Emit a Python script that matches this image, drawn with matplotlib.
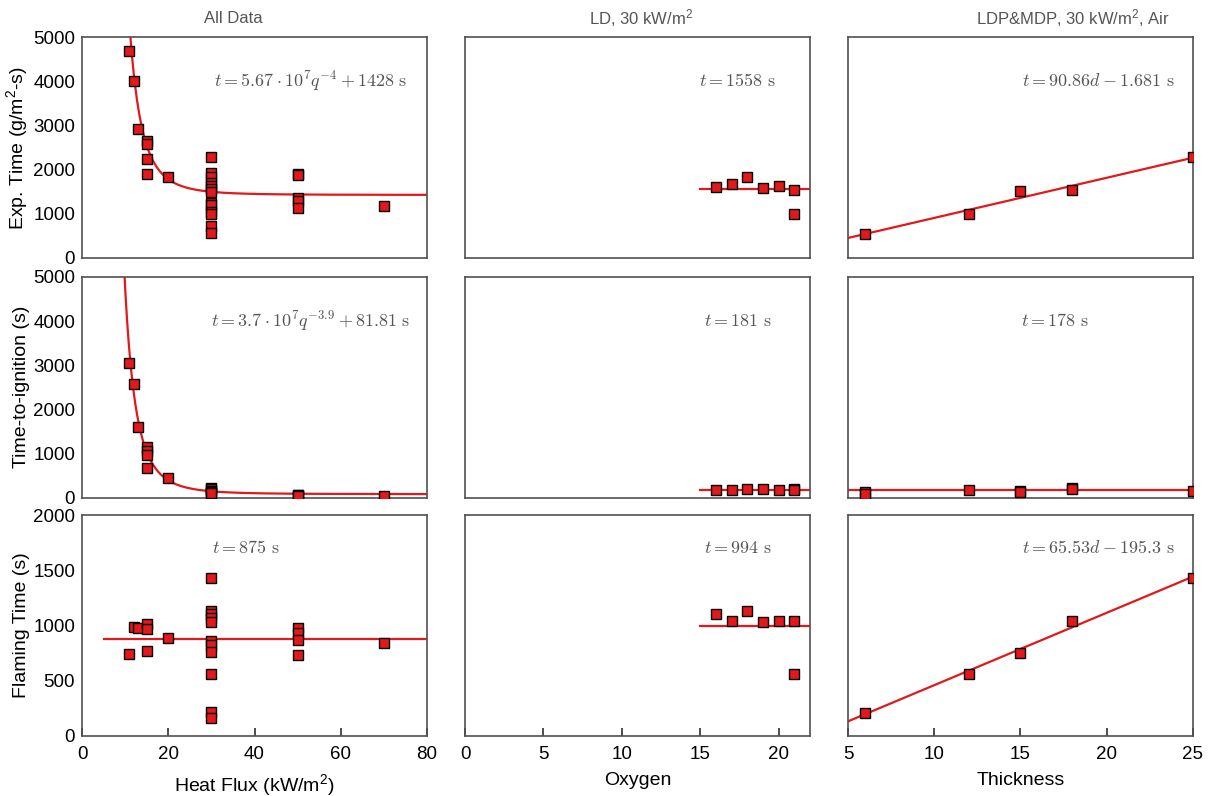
import numpy as np
import matplotlib
matplotlib.use('Agg')
import matplotlib.pyplot as plt

plt.rcParams['font.family'] = ['Liberation Sans', 'DejaVu Sans']
plt.rcParams['mathtext.fontset'] = 'cm'

# ---- data ----
# left column: heat flux (kW/m2)
hf_exp = [11, 12, 13, 15, 15, 15, 15, 20,
          30, 30, 30, 30, 30, 30, 30, 30, 30, 30, 30, 30, 30,
          50, 50, 50, 50, 50, 70]
exp_all = [4680, 4000, 2910, 2650, 2580, 2250, 1900, 1830,
           2280, 1920, 1830, 1700, 1620, 1560, 1500, 1250, 1200, 1030, 990, 720, 560,
           1890, 1870, 1350, 1290, 1140, 1180]

hf_tig = [11, 12, 13, 15, 15, 15, 15, 20, 30, 30, 30, 30, 30, 50, 50, 50, 70]
tig_all = [3050, 2570, 1600, 1150, 1050, 960, 670, 450, 220, 190, 160, 130, 100, 70, 55, 40, 30]

hf_flm = [11, 12, 13, 15, 15, 15, 20,
          30, 30, 30, 30, 30, 30, 30, 30, 30, 30, 30,
          50, 50, 50, 50, 70]
flm_all = [740, 990, 975, 1015, 965, 765, 885,
           1430, 1130, 1100, 1065, 1030, 860, 820, 760, 565, 215, 160,
           975, 930, 870, 730, 845]

# middle column: oxygen
o2 = [16, 17, 18, 19, 20, 21, 21]
exp_o2 = [1600, 1665, 1835, 1590, 1630, 1530, 990]
tig_o2 = [185, 185, 190, 190, 175, 200, 165]
flm_o2 = [1100, 1045, 1135, 1035, 1045, 1045, 565]

# right column: thickness
thk = [6, 12, 15, 18, 25]
exp_thk = [540, 1000, 1510, 1550, 2280]
thk_tig = [6, 6, 12, 15, 15, 18, 18, 25]
tig_thk = [140, 90, 170, 150, 120, 215, 190, 150]
flm_thk = [210, 565, 755, 1045, 1430]

# fitted models shown on the chart
fit_exp = (5.67e7, -4.0, 1428)
fit_tig = (3.7e7, -3.9, 81.81)
fit_flm = 875
fit_o2 = [1558, 181, 994]
fit_thk_exp = (90.86, -1.681)
fit_thk_tig = 178
fit_thk_flm = (65.53, -195.3)

RED = '#e3181b'
GRAY = '#555555'

fig = plt.figure(figsize=(12.1, 7.96), dpi=100)

lefts = [0.0678, 0.3843, 0.7008]
bottoms = [0.6759, 0.3747, 0.0754]
W, H = 0.2851, 0.2775


def make_ax(row, col, xlim, ylim):
    ax = fig.add_axes([lefts[col], bottoms[row], W, H])
    ax.set_xlim(xlim)
    ax.set_ylim(ylim)
    for s in ax.spines.values():
        s.set_color('#505050')
        s.set_linewidth(1.2)
    ax.tick_params(direction='in', length=6, width=1.2, color='#303030',
                   labelsize=13.5, pad=7)
    ax.tick_params(axis='y', length=0, pad=5)
    if row < 2:
        ax.set_xticks([])
    if col > 0:
        ax.set_yticks([])
    return ax


def points(ax, x, y):
    ax.plot(x, y, 's', ms=7.8, mfc=RED, mec='black', mew=1.0, zorder=3, ls='none')


def fitline(ax, x, y):
    ax.plot(x, y, '-', color=RED, lw=1.6, zorder=2)


def note(ax, x, y, s):
    ax.text(x, y, s, ha='center', va='center', fontsize=13, color=GRAY)


def ylab(ax, s):
    ax.set_ylabel(s, fontsize=14)
    ax.yaxis.set_label_coords(-0.15, 0.5)


def xlab(ax, s):
    ax.set_xlabel(s, fontsize=14)
    ax.xaxis.set_label_coords(0.5, -0.165)


# ---- left column ----
q = np.linspace(5, 80, 400)

ax = make_ax(0, 0, (0, 80), (0, 5000))
fitline(ax, q, fit_exp[0] * q ** fit_exp[1] + fit_exp[2])
points(ax, hf_exp, exp_all)
ax.set_yticks([0, 1000, 2000, 3000, 4000, 5000])
note(ax, 53, 4000, r'$t = 5.67\cdot10^{7}q^{-4} + 1428\ \mathrm{s}$')
ylab(ax, 'Exp. Time (g/m$\\mathregular{^2}$-s)')
fig.text(0.193, 0.977, 'All Data', ha='center', va='center', fontsize=12, color=GRAY)

ax = make_ax(1, 0, (0, 80), (0, 5000))
fitline(ax, q, fit_tig[0] * q ** fit_tig[1] + fit_tig[2])
points(ax, hf_tig, tig_all)
ax.set_yticks([0, 1000, 2000, 3000, 4000, 5000])
note(ax, 53, 4000, r'$t = 3.7\cdot10^{7}q^{-3.9} + 81.81\ \mathrm{s}$')
ylab(ax, 'Time-to-ignition (s)')

ax = make_ax(2, 0, (0, 80), (0, 2000))
fitline(ax, [5, 80], [fit_flm, fit_flm])
points(ax, hf_flm, flm_all)
ax.set_yticks([0, 500, 1000, 1500, 2000])
ax.set_xticks([0, 20, 40, 60, 80])
note(ax, 38, 1700, r'$t = 875\ \mathrm{s}$')
ylab(ax, 'Flaming Time (s)')
xlab(ax, 'Heat Flux (kW/m$\\mathregular{^2}$)')

# ---- middle column ----
ylims = [(0, 5000), (0, 5000), (0, 2000)]
o2_series = [exp_o2, tig_o2, flm_o2]
for row in range(3):
    ax = make_ax(row, 1, (0, 22), ylims[row])
    fitline(ax, [15, 22], [fit_o2[row], fit_o2[row]])
    points(ax, o2, o2_series[row])
    ny = 4000 if row < 2 else 1700
    note(ax, 17.4, ny, r'$t = %d\ \mathrm{s}$' % fit_o2[row])
    if row == 0:
        fig.text(0.530, 0.977, 'LD, 30 kW/m$\\mathregular{^2}$', ha='center', va='center',
                 fontsize=12, color=GRAY)
    if row == 2:
        ax.set_xticks([0, 5, 10, 15, 20])
        xlab(ax, 'Oxygen')

# ---- right column ----
d = np.array([5, 25])

ax = make_ax(0, 2, (5, 25), (0, 5000))
fitline(ax, d, fit_thk_exp[0] * d + fit_thk_exp[1])
points(ax, thk, exp_thk)
note(ax, 19.5, 4000, r'$t = 90.86d - 1.681\ \mathrm{s}$')
fig.text(0.887, 0.977, 'LDP&MDP, 30 kW/m$\\mathregular{^2}$, Air', ha='center', va='center',
         fontsize=12, color=GRAY)

ax = make_ax(1, 2, (5, 25), (0, 5000))
fitline(ax, d, [fit_thk_tig, fit_thk_tig])
points(ax, thk_tig, tig_thk)
note(ax, 17, 4000, r'$t = 178\ \mathrm{s}$')

ax = make_ax(2, 2, (5, 25), (0, 2000))
fitline(ax, d, fit_thk_flm[0] * d + fit_thk_flm[1])
points(ax, thk, flm_thk)
ax.set_xticks([5, 10, 15, 20, 25])
note(ax, 19.5, 1700, r'$t = 65.53d - 195.3\ \mathrm{s}$')
xlab(ax, 'Thickness')

fig.savefig('out.png', dpi=100)
